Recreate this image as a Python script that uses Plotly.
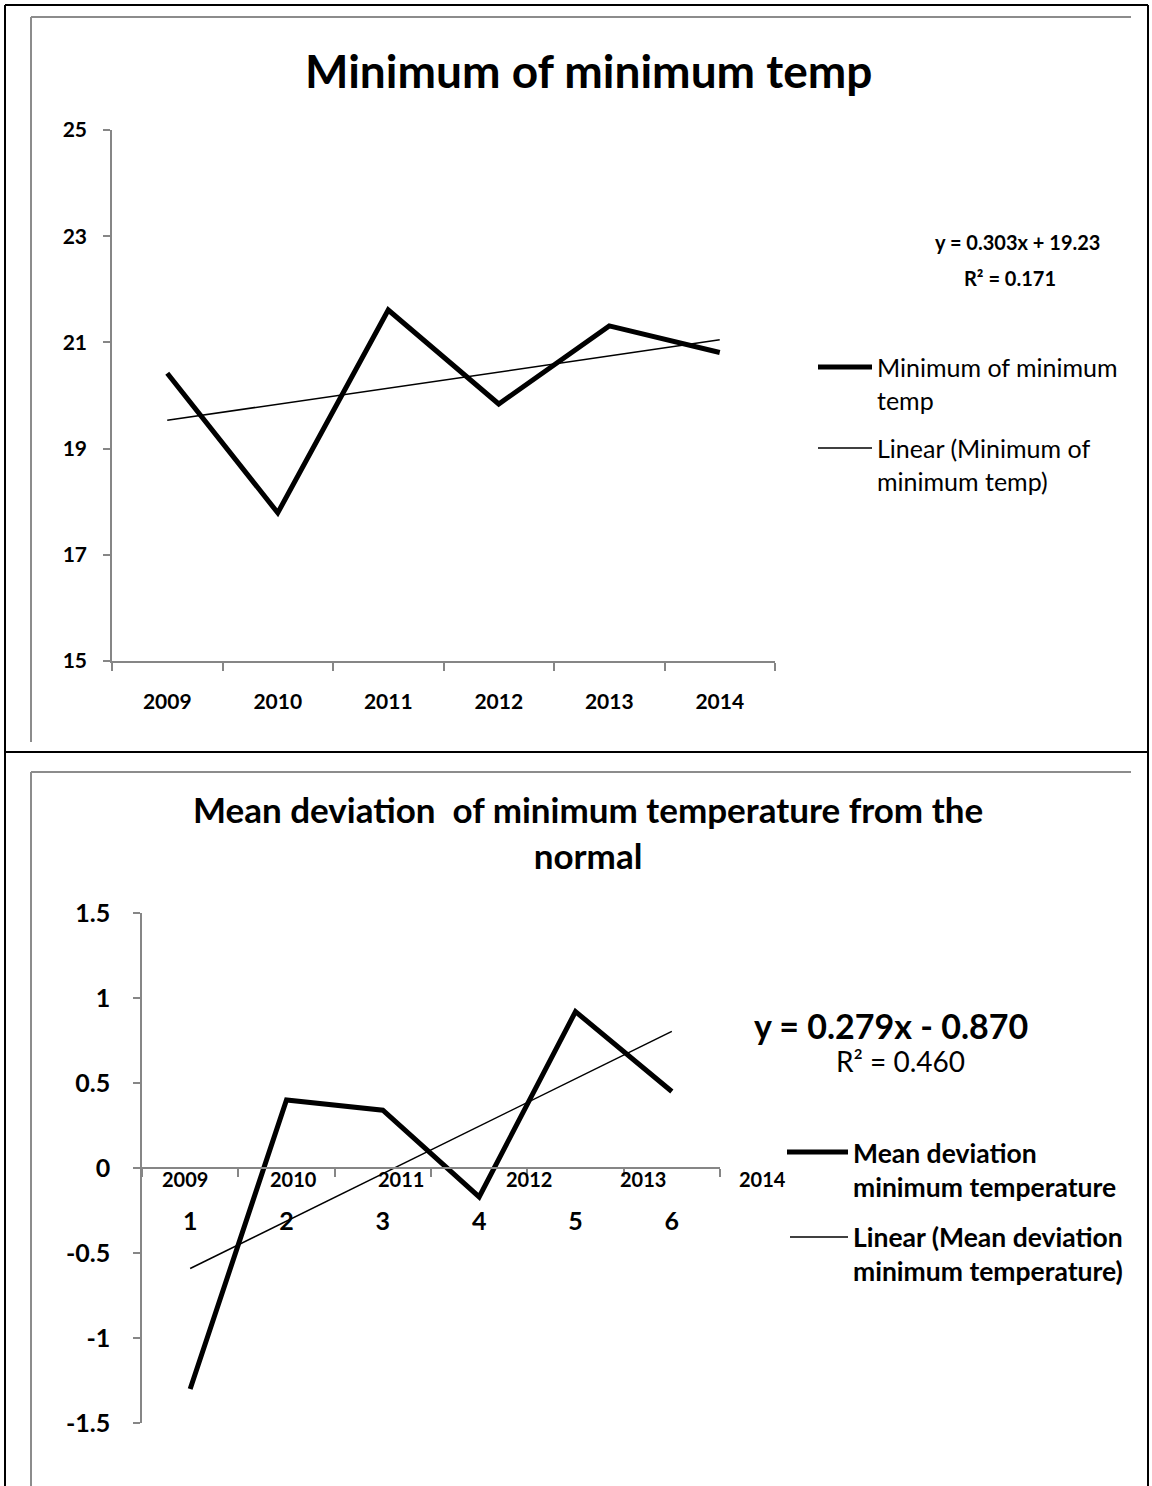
import plotly.graph_objects as go

# ---- data -------------------------------------------------------------
years = ["2009", "2010", "2011", "2012", "2013", "2014"]
min_min_temp = [20.42, 17.79, 21.61, 19.84, 21.31, 20.81]
min_trend_slope = 0.303
min_trend_intercept = 19.23
min_trend_r2 = 0.171
min_ticks = [15, 17, 19, 21, 23, 25]

dev_categories = ["1", "2", "3", "4", "5", "6"]
mean_dev_min_temp = [-1.30, 0.40, 0.34, -0.17, 0.92, 0.45]
dev_trend_slope = 0.279
dev_trend_intercept = -0.870
dev_trend_r2 = 0.460
dev_ticks = [-1.5, -1, -0.5, 0, 0.5, 1, 1.5]
dev_tick_text = ["-1.5", "-1", "-0.5", "0", "0.5", "1", "1.5"]

# year captions written under the zero line of the lower chart
dev_year_labels = ["2009", "2010", "2011", "2012", "2013", "2014"]
dev_year_label_pos = [-0.05, 1.07, 2.19, 3.52, 4.70, 5.94]  # category-index units

# ---- page geometry ----------------------------------------------------
W, H = 1152, 1486
FONT = "Lato"
AXIS_GREY = "#868686"
FRAME_GREY = "#8c8c8c"


def fx(px):
    return px / W


def fy(py):
    return 1 - py / H


top_xdom = [fx(112), fx(775)]
top_ydom = [fy(661), fy(130)]
bot_xdom = [fx(142), fx(720)]
bot_ydom = [fy(1423), fy(913)]
top_yrange = [15, 25]
bot_yrange = [-1.5, 1.5]
cat_range = [-0.5, 5.5]


def cat_to_paper(idx, dom, rng):
    return dom[0] + (idx - rng[0]) / (rng[1] - rng[0]) * (dom[1] - dom[0])


def val_to_paper(v, dom, rng):
    return dom[0] + (v - rng[0]) / (rng[1] - rng[0]) * (dom[1] - dom[0])


def trend(slope, intercept, n):
    return [slope * 1 + intercept, slope * n + intercept]


fig = go.Figure()

# upper chart: minimum of minimum temperature
fig.add_trace(go.Scatter(
    x=years, y=min_min_temp, mode="lines",
    line=dict(color="black", width=5),
    name="Minimum of minimum temp", xaxis="x", yaxis="y",
))
fig.add_trace(go.Scatter(
    x=[years[0], years[-1]],
    y=trend(min_trend_slope, min_trend_intercept, len(years)),
    mode="lines", line=dict(color="black", width=1.5),
    name="Linear (Minimum of minimum temp)", xaxis="x", yaxis="y",
))

# lower chart: mean deviation from the normal
fig.add_trace(go.Scatter(
    x=dev_categories, y=mean_dev_min_temp, mode="lines",
    line=dict(color="black", width=5),
    name="Mean deviation minimum temperature", xaxis="x2", yaxis="y2",
))
fig.add_trace(go.Scatter(
    x=[dev_categories[0], dev_categories[-1]],
    y=trend(dev_trend_slope, dev_trend_intercept, len(dev_categories)),
    mode="lines", line=dict(color="black", width=1.5),
    name="Linear (Mean deviation minimum temperature)", xaxis="x2", yaxis="y2",
))

axis_common = dict(
    showline=True, linecolor=AXIS_GREY, linewidth=1.5,
    ticks="outside", tickcolor=AXIS_GREY, tickwidth=1.5,
    showgrid=False, zeroline=False, fixedrange=True, automargin=False,
)

zero_pos = val_to_paper(0, bot_ydom, bot_yrange)

fig.update_layout(
    width=W, height=H,
    margin=dict(l=0, r=0, t=0, b=0, pad=0, autoexpand=False),
    paper_bgcolor="white", plot_bgcolor="white",
    font=dict(family=FONT, color="black"),
    showlegend=False,
    xaxis=dict(
        domain=top_xdom, anchor="y", type="category", range=cat_range,
        tickson="boundaries", ticklen=8, ticklabelstandoff=21,
        tickfont=dict(size=21, weight="bold"), **axis_common,
    ),
    yaxis=dict(
        domain=top_ydom, anchor="x", range=top_yrange,
        tickvals=min_ticks, ticklen=7, ticklabelstandoff=12,
        tickfont=dict(size=21, weight="bold"), **axis_common,
    ),
    xaxis2=dict(
        domain=bot_xdom, anchor="free", position=zero_pos, type="category",
        range=cat_range, tickson="boundaries", ticklen=8, ticklabelstandoff=31,
        tickfont=dict(size=25, weight="bold"), **axis_common,
    ),
    yaxis2=dict(
        domain=bot_ydom, anchor="x2", range=bot_yrange,
        tickvals=dev_ticks, ticktext=dev_tick_text,
        ticklen=7, ticklabelstandoff=18,
        tickfont=dict(size=25, weight="bold"), **axis_common,
    ),
)


def text(t, x, y, size, bold=False, xanchor="center", align="center", **kw):
    if bold:
        t = f"<b>{t}</b>"
    return dict(text=t, x=fx(x), y=fy(y), xref="paper", yref="paper",
                showarrow=False, font=dict(size=size, family=FONT, color="black"),
                xanchor=xanchor, yanchor="middle", align=align, **kw)


annotations = [
    text("Minimum of minimum temp", 588, 70, 46, bold=True),
    text("Mean deviation  of minimum temperature from the<br>normal",
         588, 832, 35, bold=True),
    text(f"y = {min_trend_slope:.3f}x + {min_trend_intercept:.2f}",
         1017, 242, 20, bold=True),
    text(f"R² = {min_trend_r2:.3f}", 1010, 278, 20, bold=True),
    text(f"y = {dev_trend_slope:.3f}x - {abs(dev_trend_intercept):.3f}",
         891, 1025, 34, bold=True),
    text(f"R² = {dev_trend_r2:.3f}", 900, 1061, 28),
]
for lbl, pos in zip(dev_year_labels, dev_year_label_pos):
    annotations.append(dict(
        text=f"<b>{lbl}</b>", x=cat_to_paper(pos, bot_xdom, cat_range),
        y=zero_pos, xref="paper", yref="paper", showarrow=False,
        font=dict(size=20, family=FONT), xanchor="center", yanchor="top",
        yshift=3,
    ))

# legend entries (sample line + wrapped caption)
legend_items = [
    # (x0, x1, line y, width, caption, caption centre y, size, bold)
    (818, 872, 367, 5, "Minimum of minimum<br>temp", 383.5, 25, False),
    (818, 872, 448, 1.5, "Linear (Minimum of<br>minimum temp)", 464.5, 25, False),
    (787, 848, 1152, 5, "Mean deviation<br>minimum temperature", 1169.5, 26.5, True),
    (790, 848, 1237, 1.5, "Linear (Mean deviation<br>minimum temperature)", 1254, 26.5, True),
]


def line(x0, y0, x1, y1, color, width):
    return dict(type="line", xref="paper", yref="paper",
                x0=fx(x0), y0=fy(y0), x1=fx(x1), y1=fy(y1),
                line=dict(color=color, width=width))


shapes = [
    line(5, 5, 1148, 5, "black", 2),
    line(5, 5, 5, 1486, "black", 2),
    line(1148, 5, 1148, 1486, "black", 2),
    line(5, 752, 1148, 752, "black", 2),
    line(31, 17, 1131, 17, FRAME_GREY, 2),
    line(31, 17, 31, 742, FRAME_GREY, 2),
    line(31, 772, 1131, 772, FRAME_GREY, 2),
    line(31, 772, 31, 1486, FRAME_GREY, 2),
]
for x0, x1, ly, lw, cap, cy, size, bold in legend_items:
    shapes.append(line(x0, ly, x1, ly, "black", lw))
    annotations.append(text(cap, x1 + 3, cy, size, bold=bold,
                            xanchor="left", align="left"))

fig.update_layout(shapes=shapes, annotations=annotations)

fig.write_html("out.html")
